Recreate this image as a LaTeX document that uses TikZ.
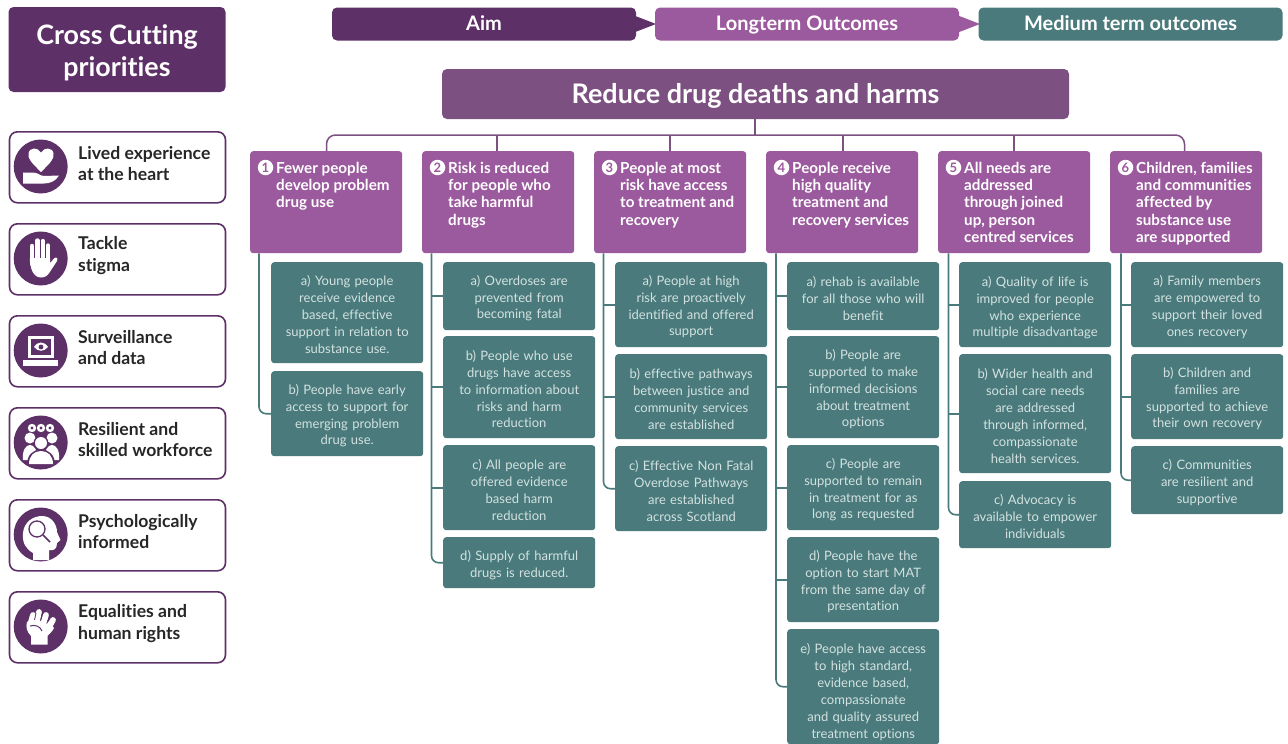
\documentclass[tikz,border=0pt]{standalone}
\usepackage{fontspec}
\setmainfont{Lato}[Ligatures=NoCommon]
\definecolor{dpurple}{HTML}{5E3068}
\definecolor{mpurple}{HTML}{9C5A9E}
\definecolor{rpurple}{HTML}{7C5080}
\definecolor{teal1}{HTML}{4A7A7B}
\definecolor{lineP}{HTML}{7C5080}
\definecolor{soft}{HTML}{D3E2E1}
\tikzset{
 x=1pt,y=-1pt,
 headbox/.style={fill=#1,rounded corners=5pt,text=white,font=\fontsize{20}{20}\selectfont\bfseries,align=center,anchor=center,inner sep=0pt,text height=16pt,text depth=3pt},
 prio/.style={draw=dpurple,line width=1.6pt,rounded corners=8pt,fill=white,minimum width=216pt,minimum height=71pt,inner sep=0pt,anchor=north west},
 priotxt/.style={anchor=west,align=left,font=\fontsize{17.6}{21.5}\selectfont\bfseries,text=black!85,inner sep=0pt},
 iconc/.style={circle,fill=dpurple,minimum size=54pt,inner sep=0pt},
 outcome/.style={fill=mpurple,rounded corners=3pt,minimum width=152pt,anchor=north west,inner sep=0pt},
 outtxt/.style={anchor=north west,align=left,text=white,font=\fontsize{15.2}{17.1}\selectfont\bfseries,inner sep=0pt},
 numc/.style={circle,fill=white,text=mpurple,font=\fontsize{13}{13}\selectfont\bfseries,minimum size=15.5pt,inner sep=0pt},
 medium/.style={fill=teal1,rounded corners=3pt,minimum width=152pt,anchor=north west,inner sep=0pt},
 medtxt/.style={text=soft,inner sep=0pt,align=center,text width=148pt,font=\fontsize{13}{16.9}\selectfont},
 tealline/.style={draw=teal1,line width=1.6pt},
 purpline/.style={draw=lineP,line width=1.5pt},
}
\begin{document}
\begin{tikzpicture}
\useasboundingbox (0,0) rectangle (1288,744);
\fill[white] (0,0) rectangle (1288,744);
% header
\node[fill=dpurple,rounded corners=5pt,minimum width=217pt,minimum height=85pt,inner sep=0pt] (cross) at (117,49.5) {};
\node[text=white,align=center,inner sep=0pt,font=\fontsize{26.8}{32}\selectfont\bfseries,yshift=-3.5pt] (crosst) at (cross.center) {Cross Cutting\\priorities};
% chevron bar
\node[headbox=dpurple,minimum width=304pt,minimum height=33pt] (aim) at (484,24) {Aim};
\fill[dpurple] (634,15.5) -- (656,24) -- (634,32.5) -- cycle;
\node[headbox=mpurple,minimum width=304pt,minimum height=33pt] (lto) at (807,24) {Longterm Outcomes};
\fill[mpurple] (958,15.5) -- (980,24) -- (958,32.5) -- cycle;
\node[headbox=teal1,minimum width=304pt,minimum height=33pt] (mto) at (1130.5,24) {Medium term outcomes};
\node[headbox=rpurple,minimum width=627pt,minimum height=50pt,font=\fontsize{27}{27}\selectfont\bfseries,text height=22pt,text depth=3pt] (aimbox) at (755.5,94) {Reduce drug deaths and harms};
% priorities
\foreach \n/\yy/\a/\b in {p1/131/Lived experience/at the heart,p2/223/Tackle/stigma,p3/315/Surveillance/and data,p4/407/Resilient and/skilled workforce,p5/499/Psychologically/informed,p6/591/Equalities and/human rights}{
 \node[prio] (\n) at (8.7,\yy) {};
 \node[iconc] (\n c) at (40.7,\yy+35.5) {};
 \node[priotxt] (\n t) at (78,\yy+32.5) {\a\\\b};
}
% icon: heart and hand
\fill[white] (41,172) .. controls (32,163) and (27.5,159) .. (28.5,153.5) .. controls (29.5,147) and (38,147) .. (41,152.5) .. controls (44,147) and (52.5,147) .. (53.5,153.5) .. controls (54.5,159) and (50,163) .. (41,172) -- cycle;
\fill[white] (23,172.5) -- (33,172.5) .. controls (38,172.5) and (40,176) .. (44,176) -- (59,175.5) .. controls (56,181) and (50,183.5) .. (44,183.5) -- (23,183.5) -- cycle;
% icon: hand
\foreach \fx/\fy in {32/246,37.4/240.5,42.8/241,48/245.5}
  \draw[white,line width=4.4pt,line cap=round] (\fx,\fy) -- (\fx,264);
\fill[white] (29.8,258) -- (50.2,258) -- (50.2,263) -- (54,258.5) .. controls (56,256.5) and (58.5,258) .. (57,261) -- (50.5,271) .. controls (47.5,276) and (45,277.5) .. (41,277.5) .. controls (33,277.5) and (30,268) .. (29.8,258) -- cycle;
% icon: laptop
\fill[white] (28,336) rectangle (54,358);
\fill[dpurple] (31,339) rectangle (51,355);
\fill[white] (34,347) .. controls (38,341) and (44,341) .. (48,347) .. controls (44,352) and (38,352) .. (34,347) -- cycle;
\fill[dpurple] (41,347) circle (2.4);
\fill[white] (23,360) rectangle (58,366);
% icon: people
\foreach \cx in {32,41,50} \fill[white] (\cx,428) circle (4.2);
\foreach \cx in {32,41,50} \fill[dpurple] (\cx,428) circle (1.6);
\fill[white] (30,438) circle (5.5);\fill[white] (52,438) circle (5.5);
\fill[white] (23,460) .. controls (22,450) and (26,445) .. (30,445) .. controls (34,445) and (38,450) .. (37,460) -- cycle;
\fill[white] (45,460) .. controls (44,450) and (48,445) .. (52,445) .. controls (56,445) and (60,450) .. (59,460) -- cycle;
\fill[dpurple] (41,443) circle (7.5);
\fill[white] (41,443) circle (6);
\fill[dpurple] (27,464.5) .. controls (27,455) and (33,449.5) .. (41,449.5) .. controls (49,449.5) and (55,455) .. (55,464.5) -- cycle;
\fill[white] (29,464) .. controls (29,456) and (34,451) .. (41,451) .. controls (48,451) and (53,456) .. (53,464) -- cycle;
% icon: head
\fill[white] (33,560) -- (33,553) .. controls (26,549) and (22,543) .. (23,533) .. controls (24,522) and (33,516) .. (42,516) .. controls (52,516) and (57,525) .. (57,532) -- (60.5,540) -- (57,543) .. controls (57,549) and (54,551) .. (49,550) -- (49,560) -- cycle;
\draw[dpurple,line width=1.3pt] (37,529) circle (8);
\draw[dpurple,line width=1.6pt] (43,535) -- (50,542);
% icon: fist
\fill[white] (31,644.5) -- (31,636) .. controls (27,632) and (25.5,627) .. (27,622) -- (34,618) -- (50,622) -- (54,628) .. controls (52,632) and (49,634) .. (47.5,636) -- (47.5,644.5) -- cycle;
\foreach \xa/\ya/\xb/\yb in {31/622/33/615,37/621/39/612,43.5/623/46/615,49/627/53/620}
  \draw[white,line width=5.8pt,line cap=round] (\xa,\ya) -- (\xb,\yb);
\draw[dpurple,line width=.8pt] (36,613) -- (34.5,620) (42.5,612) -- (40.5,621) (49.8,617) -- (46.7,623.5);
\draw[dpurple,line width=1pt] (30,626) .. controls (35,624.5) and (40,626) .. (42,631);
% outcomes
\foreach \n/\xx in {o1/250,o2/422,o3/594,o4/766,o5/938,o6/1110}{
 \node[outcome,minimum height=102pt] (\n) at (\xx,151) {};
}
\foreach \n/\xx/\k/\t in {
 o1/250/1/{Fewer people\\develop problem\\drug use},
 o2/422/2/{Risk is reduced\\for people who\\take harmful\\drugs},
 o3/594/3/{People at most\\risk have access\\to treatment and\\recovery},
 o4/766/4/{People receive\\high quality\\treatment and\\recovery services},
 o5/938/5/{All needs are\\addressed\\through joined\\up, person\\centred services},
 o6/1110/6/{Children, families\\and communities\\affected by\\substance use\\are supported}}{
 \node[numc] (\n n) at (\xx+15.5,167.5) {\k};
 \node[outtxt] (\n t) at (\xx+26,162.3) {\t};
}
% trunk connectors
\coordinate (bus) at (755,135);
\draw[purpline] (aimbox.south -| bus) -- (bus);
\draw[purpline,rounded corners=9pt] (o1.north -| 326.5,0) |- (bus) -| (o6.north -| 1184.5,0);
\foreach \n/\xx in {o2/497,o3/670,o4/843,o5/1014} \draw[purpline] (\xx,135) -- (\n.north -| \xx,0);
% mediums
\newcommand{\med}[5]{\node[medium,minimum height=#3pt] (#1) at (#2) {};
  \node[medtxt,yshift=-#4pt] (#1t) at (#1.center) {#5};}
\med{m1a}{271,262}{101}{2}{a) Young people\\receive evidence\\based, effective\\support in relation to\\substance use.}
\med{m1b}{271,371}{85}{2}{b) People have early\\access to support for\\emerging problem\\drug use.}
\med{m2a}{443,262}{68}{2}{a) Overdoses are\\prevented from\\becoming fatal}
\med{m2b}{443,336}{102}{2}{b) People who use\\drugs have access\\to information about\\risks and harm\\reduction}
\med{m2c}{443,445}{85}{2}{c) All people are\\offered evidence\\based harm\\reduction}
\med{m2d}{443,537}{51}{2}{d) Supply of harmful\\drugs is reduced.}
\med{m3a}{615,262}{85}{2}{a) People at high\\risk are proactively\\identified and offered\\support}
\med{m3b}{615,354}{85}{2}{b) effective pathways\\between justice and\\community services\\are established}
\med{m3c}{615,446}{85}{2}{c) Effective Non Fatal\\Overdose Pathways\\are established\\across Scotland}
\med{m4a}{787,262}{68}{2}{a) rehab is available\\for all those who will\\benefit}
\med{m4b}{787,336}{102}{2}{b) People are\\supported to make\\informed decisions\\about treatment\\options}
\med{m4c}{787,445}{85}{2}{c) People are\\supported to remain\\in treatment for as\\long as requested}
\med{m4d}{787,537}{85}{2}{d) People have the\\option to start MAT\\from the same day of\\presentation}
\med{m4e}{787,629}{115}{5.5}{e) People have access\\to high standard,\\evidence based,\\compassionate\\and quality assured\\treatment options}
\med{m5a}{959,262}{85}{3}{a) Quality of life is\\improved for people\\who experience\\multiple disadvantage}
\med{m5b}{959,354}{119}{2.5}{b) Wider health and\\social care needs\\are addressed\\through informed,\\compassionate\\health services.}
\med{m5c}{959,481}{67}{1.5}{c) Advocacy is\\available to empower\\individuals}
\med{m6a}{1131,262}{85}{2.5}{a) Family members\\are empowered to\\support their loved\\ones recovery}
\med{m6b}{1131,354}{85}{2}{b) Children and\\families are\\supported to achieve\\their own recovery}
\med{m6c}{1131,446}{68}{2}{c) Communities\\are resilient and\\supportive}
% teal connectors
\draw[tealline,rounded corners=7pt] (o1.south -| 259,0) |- (m1b.west);
\draw[tealline,rounded corners=7pt] (o2.south -| 431.5,0) |- (m2d.west);
\foreach \m in {m2a,m2b,m2c} \draw[tealline] (\m.west -| 431.5,0) -- (\m.west);
\draw[tealline,rounded corners=7pt] (o3.south -| 603.5,0) |- (m3c.west);
\foreach \m in {m3a,m3b} \draw[tealline] (\m.west -| 603.5,0) -- (\m.west);
\draw[tealline,rounded corners=7pt] (o4.south -| 776,0) |- (m4e.west);
\foreach \m in {m4a,m4b,m4c,m4d} \draw[tealline] (\m.west -| 776,0) -- (\m.west);
\draw[tealline,rounded corners=7pt] (o5.south -| 948.5,0) |- (m5c.west);
\foreach \m in {m5a,m5b} \draw[tealline] (\m.west -| 948.5,0) -- (\m.west);
\draw[tealline,rounded corners=7pt] (o6.south -| 1121,0) |- (m6c.west);
\foreach \m in {m6a,m6b} \draw[tealline] (\m.west -| 1121,0) -- (\m.west);
\end{tikzpicture}
\end{document}
